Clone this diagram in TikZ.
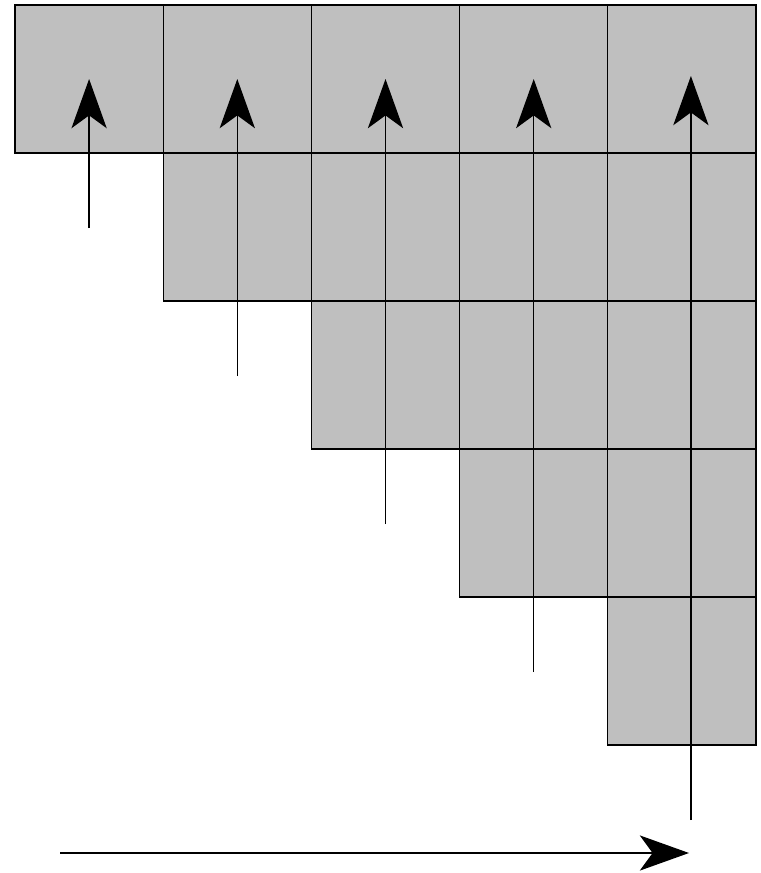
\documentclass[tikz,border=0pt]{standalone}
\usetikzlibrary{arrows.meta}
\begin{document}
\begin{tikzpicture}[x=0.025cm, y=-0.025cm,
  cell/.style={draw, fill=gray!50, line width=0.9pt, inner sep=0pt, minimum width=3.705cm, minimum height=3.7cm},
  flow/.style={line width=1pt, -{Stealth[length=12.3mm, width=8.8mm, inset=3.2mm]}}]
  \useasboundingbox (0,0) rectangle (761,873);
  \foreach \r in {1,...,5}
    \foreach \c in {\r,...,5}
      \node[cell] (c\r\c) at ({15+148.2*(\c-0.5)},{5+148*(\r-0.5)}) {};
  \foreach \c in {1,...,4}
    \coordinate (t\c) at (c1\c.center);
  \coordinate (t5) at ([shift={(9,-3)}]c15.center);
  \foreach \c in {1,...,5} {
    \coordinate (s\c) at (t\c |- {(0,{5+148*\c+75})});
    \draw[flow] (s\c) -- (t\c);
  }
  \coordinate (h0) at (60,853);
  \coordinate (h1) at (689,853);
  \draw[flow] (h0) -- (h1);
\end{tikzpicture}
\end{document}
